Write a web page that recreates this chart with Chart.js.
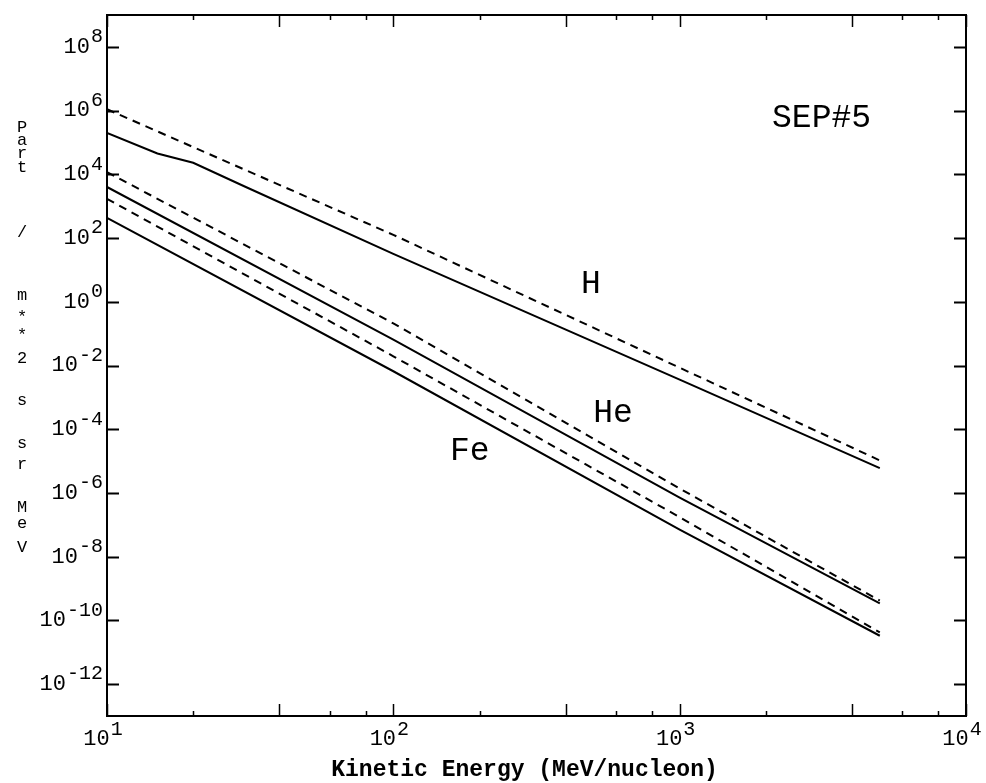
<!DOCTYPE html>
<html>
<head>
<meta charset="utf-8">
<script src="https://cdn.jsdelivr.net/npm/chart.js@4/dist/chart.umd.min.js"></script>
<style>
html,body{margin:0;padding:0;background:#fff;}
#wrap{position:relative;width:986px;height:783px;}
</style>
</head>
<body>
<div id="wrap"><canvas id="c" width="986" height="783"></canvas></div>
<script>
// ---- data ----
const energies = [10, 100, 1000, 5000];            // MeV/nucleon
const hSolidEnergies = [10, 15, 20, 30, 100, 1000, 5000];
const hDashed  = [1.1e6, 1.26e2, 8.5e-3, 1.05e-5];
const hSolid   = [2.0e5, 4.5e4, 2.3e4, 4.3e3, 3.2e1, 3.6e-3, 6.0e-6];
const heDashed = [1.17e4, 2.1e-1, 1.38e-6, 4.2e-10];
const heSolid  = [4.0e3, 6.5e-2, 7.1e-7, 3.4e-10];
const feDashed = [1.7e3, 1.95e-2, 1.74e-7, 4.2e-11];
const feSolid  = [4.27e2, 6.6e-3, 7.1e-8, 3.3e-11];

// tick definitions
const yTickExps = [8, 6, 4, 2, 0, -2, -4, -6, -8, -10, -12];
const xTickExps = [1, 2, 3, 4];
const xMinorTicks = [20, 40, 60, 80, 200, 400, 600, 800, 2000, 4000, 6000, 8000];
const xLongMinor = [40, 400, 4000];

// annotations (text, anchor energy, anchor flux at text baseline)
const annoText = ['H', 'He', 'Fe', 'SEP#5'];
const annoX = [490, 585, 185, 3130];
const annoY = [1.9, 1.7e-4, 1.05e-5, 3.0e5];

const xTitle = 'Kinetic Energy (MeV/nucleon)';
const yTitle = 'Part / m**2 s sr MeV';
const yTitleBaselines = [132,145,158,172,237,300,322,340,363,405,448,469,512,528,552];

function pts(xs, ys){ return xs.map((x,i)=>({x:x, y:ys[i]})); }

const FONT = '"Liberation Mono", "DejaVu Sans Mono", monospace';

const framePlugin = {
  id: 'frame',
  afterDraw(chart){
    const ctx = chart.ctx;
    const a = chart.chartArea;
    const xs = chart.scales.x, ys = chart.scales.y;
    ctx.save();
    ctx.strokeStyle = '#000';
    ctx.fillStyle = '#000';
    // frame
    ctx.lineWidth = 2;
    ctx.strokeRect(a.left, a.top, a.right - a.left, a.bottom - a.top);
    // y ticks (left and right, inward)
    ctx.lineWidth = 2;
    ctx.beginPath();
    yTickExps.forEach(e => {
      const py = Math.round(ys.getPixelForValue(Math.pow(10, e))) + 0.5;
      ctx.moveTo(a.left, py); ctx.lineTo(a.left + 12, py);
      ctx.moveTo(a.right, py); ctx.lineTo(a.right - 12, py);
    });
    ctx.stroke();
    // x ticks (top and bottom, inward)
    ctx.lineWidth = 1.5;
    ctx.beginPath();
    const xt = [];
    xTickExps.forEach(e => xt.push([Math.pow(10, e), 12]));
    xMinorTicks.forEach(v => xt.push([v, xLongMinor.includes(v) ? 12 : 5]));
    xt.forEach(([v, len]) => {
      const px = Math.round(xs.getPixelForValue(v)) + 0.5;
      ctx.moveTo(px, a.bottom); ctx.lineTo(px, a.bottom - len);
      ctx.moveTo(px, a.top); ctx.lineTo(px, a.top + len);
    });
    ctx.stroke();

    // y tick labels
    const baseFont = '22px ' + FONT;
    const supFont = '20px ' + FONT;
    ctx.textBaseline = 'middle';
    yTickExps.forEach(e => {
      const py = ys.getPixelForValue(Math.pow(10, e));
      const sup = String(e);
      ctx.font = supFont;
      const wSup = ctx.measureText(sup).width;
      ctx.textAlign = 'right';
      const rx = a.left - 4;
      ctx.fillText(sup, rx, py - 10);
      ctx.font = baseFont;
      ctx.fillText('10', rx - wSup - 1, py);
    });
    // x tick labels
    xTickExps.forEach(e => {
      const px = xs.getPixelForValue(Math.pow(10, e)) - 4;
      const sup = String(e);
      ctx.font = baseFont;
      const w10 = ctx.measureText('10').width;
      ctx.font = supFont;
      const wSup = ctx.measureText(sup).width;
      const total = w10 + 1 + wSup;
      const x0 = px - total / 2;
      ctx.textAlign = 'left';
      ctx.font = baseFont;
      ctx.fillText('10', x0, a.bottom + 23);
      ctx.font = supFont;
      ctx.fillText(sup, x0 + w10 + 1, a.bottom + 14);
    });

    // x title
    ctx.font = 'bold 23px ' + FONT;
    ctx.textAlign = 'center';
    ctx.textBaseline = 'middle';
    ctx.fillText(xTitle, (a.left + a.right) / 2 - 12, 770);

    // y title (stacked characters)
    ctx.font = '17px ' + FONT;
    ctx.textAlign = 'center';
    ctx.textBaseline = 'alphabetic';
    let k = 0;
    for (const ch of yTitle) {
      if (ch === ' ') continue;
      ctx.fillText(ch, 22, yTitleBaselines[k]);
      k++;
    }

    // annotations
    ctx.font = '33px ' + FONT;
    ctx.textAlign = 'center';
    ctx.textBaseline = 'alphabetic';
    annoText.forEach((t, i) => {
      ctx.fillText(t, xs.getPixelForValue(annoX[i]), ys.getPixelForValue(annoY[i]));
    });
    ctx.restore();
  }
};

const dashed = [8, 6];
new Chart(document.getElementById('c').getContext('2d'), {
  type: 'line',
  data: {
    datasets: [
      { label: 'H (dashed)',  data: pts(energies, hDashed),  borderDash: dashed },
      { label: 'H',           data: pts(hSolidEnergies, hSolid) },
      { label: 'He (dashed)', data: pts(energies, heDashed), borderDash: dashed },
      { label: 'He',          data: pts(energies, heSolid) },
      { label: 'Fe (dashed)', data: pts(energies, feDashed), borderDash: dashed },
      { label: 'Fe',          data: pts(energies, feSolid) }
    ]
  },
  options: {
    responsive: false,
    animation: false,
    devicePixelRatio: 1,
    parsing: true,
    layout: { padding: { left: 107, right: 20, top: 15, bottom: 67 } },
    plugins: { legend: { display: false }, tooltip: { enabled: false } },
    elements: {
      point: { radius: 0, hoverRadius: 0 },
      line: { borderWidth: 2, borderColor: '#000', tension: 0, fill: false }
    },
    scales: {
      x: {
        type: 'logarithmic', min: 10, max: 10000,
        grid: { display: false, drawTicks: false },
        border: { display: false },
        ticks: { display: false },
        afterFit(s) { s.height = 0; }
      },
      y: {
        type: 'logarithmic', min: 1e-13, max: 1e9,
        grid: { display: false, drawTicks: false },
        border: { display: false },
        ticks: { display: false },
        afterFit(s) { s.width = 0; }
      }
    }
  },
  plugins: [framePlugin]
});
</script>
</body>
</html>
